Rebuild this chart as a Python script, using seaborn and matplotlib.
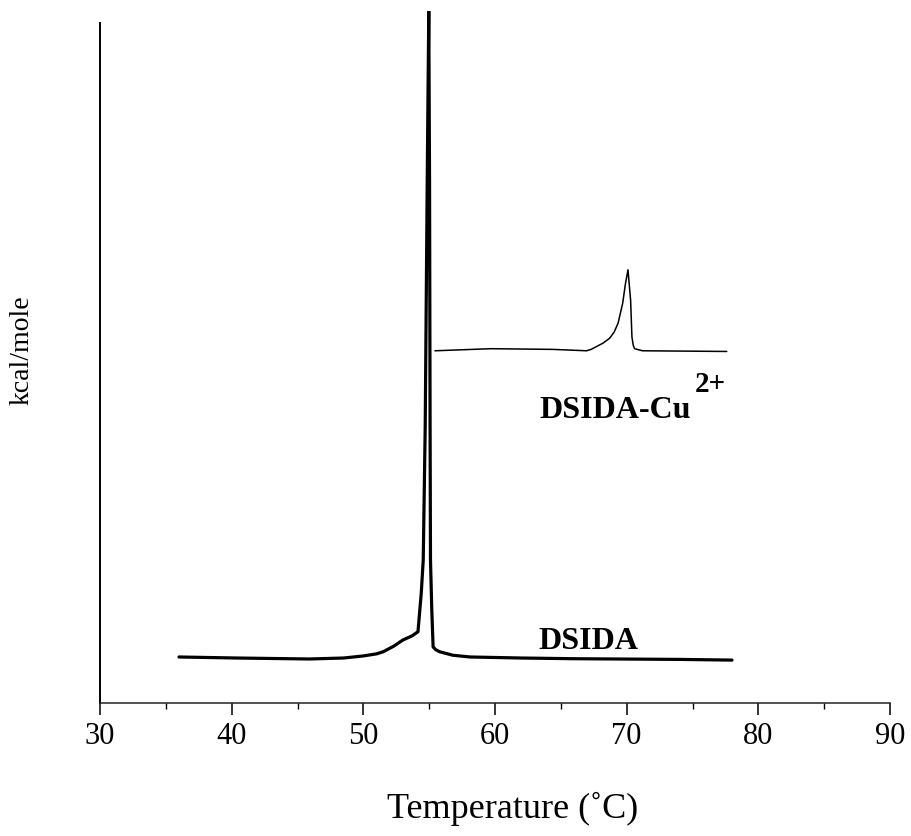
import matplotlib
matplotlib.use("Agg")
import matplotlib.pyplot as plt
import seaborn as sns
import pandas as pd
from matplotlib.ticker import MultipleLocator

# --- data ---
dsida_temp = [36.0, 40.4, 45.9, 48.5, 50.0, 51.0, 51.5, 52.3, 53.0, 53.7, 54.15, 54.4, 54.55,
              54.7, 54.85, 54.97, 55.03, 55.07, 55.1, 55.2, 55.3, 55.5, 55.8, 56.8,
              58.1, 62.0, 66.0, 70.0, 74.0, 78.0]
dsida_heat = [6.65, 6.5, 6.36, 6.5, 6.8, 7.1, 7.4, 8.2, 9.1, 9.7, 10.3, 15.9, 20.7,
              40.0, 75.0, 100.0, 75.0, 40.0, 20.7, 13.4, 8.1, 7.7, 7.4, 6.9,
              6.65, 6.5, 6.4, 6.35, 6.3, 6.2]

cu_temp = [55.44, 59.7, 64.4, 66.95, 67.3, 67.7, 68.2, 68.7, 69.05, 69.35, 69.7, 69.9,
           70.1, 70.3, 70.4, 70.5, 70.6, 71.2, 77.6]
cu_heat = [50.9, 51.2, 51.1, 50.9, 51.1, 51.5, 52.0, 52.7, 53.6, 54.9, 57.8, 60.5,
           62.6, 58.2, 52.9, 51.7, 51.2, 50.9, 50.8]

x_ticks = [30, 40, 50, 60, 70, 80, 90]

sns.set_style("ticks")
plt.rcParams['font.family'] = ['Liberation Serif', 'DejaVu Serif']
plt.rcParams['text.color'] = 'black'
plt.rcParams['axes.labelcolor'] = 'black'
plt.rcParams['xtick.color'] = 'black'
plt.rcParams['ytick.color'] = 'black'

fig = plt.figure(figsize=(9.11, 8.36), dpi=100)
ax = fig.add_axes([100 / 911, 133 / 836, 790 / 911, 692 / 836])

df1 = pd.DataFrame({"T": dsida_temp, "H": dsida_heat})
df2 = pd.DataFrame({"T": cu_temp, "H": cu_heat})
sns.lineplot(data=df1, x="T", y="H", ax=ax, color="black", linewidth=2.3,
             estimator=None, sort=False, solid_joinstyle="round")
sns.lineplot(data=df2, x="T", y="H", ax=ax, color="black", linewidth=1.1,
             estimator=None, sort=False, solid_joinstyle="round")

ax.set_xlim(30, 90)
ax.set_ylim(0, 100)
ax.set_xticks(x_ticks)
ax.xaxis.set_minor_locator(MultipleLocator(5))
ax.set_yticks([])
ax.tick_params(axis="x", which="major", length=8.6, width=1.1, direction="out",
               labelsize=22, pad=5, color="black", labelcolor="black")
ax.tick_params(axis="x", which="minor", length=4.3, width=1.0, direction="out",
               color="black")

for s in ["top", "right"]:
    ax.spines[s].set_visible(False)
ax.spines["left"].set_bounds(0, 98.3)
ax.spines["left"].set_linewidth(1.4)
ax.spines["left"].set_color("black")
ax.spines["bottom"].set_linewidth(1.1)
ax.spines["bottom"].set_color("#222222")

ax.set_xlabel("Temperature (˚C)", fontsize=26, labelpad=40)
ax.xaxis.set_label_coords(0.522, -0.128)
ax.set_ylabel("kcal/mole", fontsize=20, labelpad=0)
ax.yaxis.set_label_coords(-0.083, 0.51)

ax.text(67.1, 7.8, "DSIDA", fontsize=23, fontweight="bold", ha="center",
        va="baseline")
ax.text(63.4, 41.2, "DSIDA-Cu", fontsize=23, fontweight="bold", ha="left",
        va="baseline")
ax.text(75.2, 44.9, "2+", fontsize=21, fontweight="bold", ha="left",
        va="baseline")

fig.savefig("out.png", dpi=100)
